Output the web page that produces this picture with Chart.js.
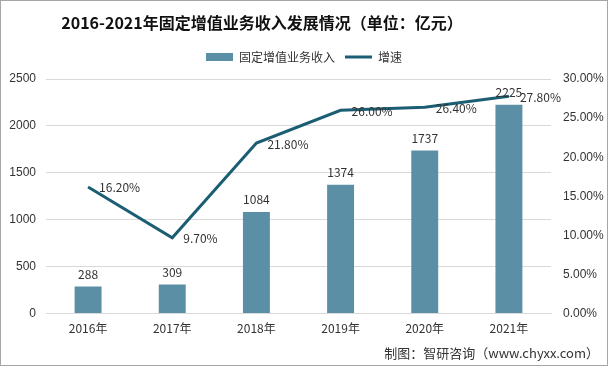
<!DOCTYPE html>
<html>
<head>
<meta charset="utf-8">
<script src="https://cdn.jsdelivr.net/npm/chart.js@4"></script>
<style>
  body { margin: 0; background: #fff; }
  #wrap { width: 606px; height: 364px; border: 1px solid #a6a6a6; position: relative; }
  #title { position: absolute; left: 0; width: 522px; top: 9px; text-align: center; font: bold 16px "Noto Sans CJK SC", sans-serif; color: #111; }
  #note { position: absolute; right: 8px; bottom: 3px; font: 13px "Noto Sans CJK SC", sans-serif; color: #333; }
</style>
</head>
<body>
<div id="wrap">
  <canvas id="chart" width="606" height="364"></canvas>
  <div id="title">2016-2021年固定增值业务收入发展情况（单位：亿元）</div>
  <div id="note">制图：智研咨询（www.chyxx.com）</div>
</div>
<script>
// Chart data
const years = ['2016年', '2017年', '2018年', '2019年', '2020年', '2021年'];
const revenue = [288, 309, 1084, 1374, 1737, 2225];
const growth = [16.2, 9.7, 21.8, 26.0, 26.4, 27.8];

const barColor = '#5b8fa6';
const lineColor = '#1b5e73';

// Add some room under the legend
const legendGap = {
    id: 'legendGap',
    beforeInit(chart) {
        const fit = chart.legend.fit;
        chart.legend.fit = function () {
            fit.bind(chart.legend)();
            this.height += 6;
        };
    }
};

// Draw value labels next to bars and points
const valueLabels = {
    id: 'valueLabels',
    afterDatasetsDraw(chart) {
        const ctx = chart.ctx;
        ctx.save();
        ctx.font = '12px "Noto Sans CJK SC", sans-serif';
        ctx.fillStyle = '#333';
        chart.getDatasetMeta(0).data.forEach((bar, i) => {
            ctx.textAlign = 'center';
            ctx.textBaseline = 'bottom';
            ctx.fillText(revenue[i], bar.x, bar.y - 6);
        });
        chart.getDatasetMeta(1).data.forEach((pt, i) => {
            ctx.textAlign = 'left';
            ctx.textBaseline = 'middle';
            ctx.fillText(growth[i].toFixed(2) + '%', pt.x + 11, pt.y + 1);
        });
        ctx.restore();
    }
};

const ctx = document.getElementById('chart').getContext('2d');
const chart = new Chart(ctx, {
    type: 'bar',
    data: {
        labels: years,
        datasets: [
            {
                type: 'bar',
                label: '固定增值业务收入',
                data: revenue,
                backgroundColor: barColor,
                borderWidth: 0,
                barPercentage: 0.64,
                categoryPercentage: 0.5,
                yAxisID: 'y',
                pointStyle: 'rect',
                order: 2
            },
            {
                type: 'line',
                label: '增速',
                data: growth,
                borderColor: lineColor,
                backgroundColor: lineColor,
                borderWidth: 3,
                pointRadius: 0,
                tension: 0,
                yAxisID: 'y1',
                pointStyle: 'line',
                order: 1
            }
        ]
    },
    options: {
        responsive: false,
        animation: false,
        layout: { padding: { left: 0, right: 0, top: 40, bottom: 29 } },
        plugins: {
            legend: {
                position: 'top',
                labels: {
                    usePointStyle: true,
                    pointStyleWidth: 27,
                    boxHeight: 8,
                    font: { family: '"Noto Sans CJK SC", sans-serif', size: 12 },
                    color: '#333',
                    padding: 10,
                    sort: (a, b) => a.datasetIndex - b.datasetIndex
                }
            },
            tooltip: { enabled: false }
        },
        scales: {
            x: {
                grid: { display: false },
                border: { color: '#d9d9d9' },
                ticks: { font: { family: '"Noto Sans CJK SC", sans-serif', size: 12 }, color: '#333', padding: 0 }
            },
            y: {
                position: 'left',
                min: 0,
                max: 2500,
                afterFit: scale => { scale.width = 45; },
                ticks: { stepSize: 500, font: { size: 12 }, color: '#333', padding: 10, callback: v => String(v) },
                grid: { color: '#d9d9d9', drawTicks: false },
                border: { display: false }
            },
            y1: {
                position: 'right',
                min: 0,
                max: 30,
                afterFit: scale => { scale.width = 56; },
                ticks: {
                    stepSize: 5,
                    font: { size: 12 },
                    color: '#333',
                    padding: 12,
                    callback: v => v.toFixed(2) + '%'
                },
                grid: { display: false, drawTicks: false },
                border: { display: false }
            }
        }
    },
    plugins: [legendGap, valueLabels]
});
</script>
</body>
</html>
